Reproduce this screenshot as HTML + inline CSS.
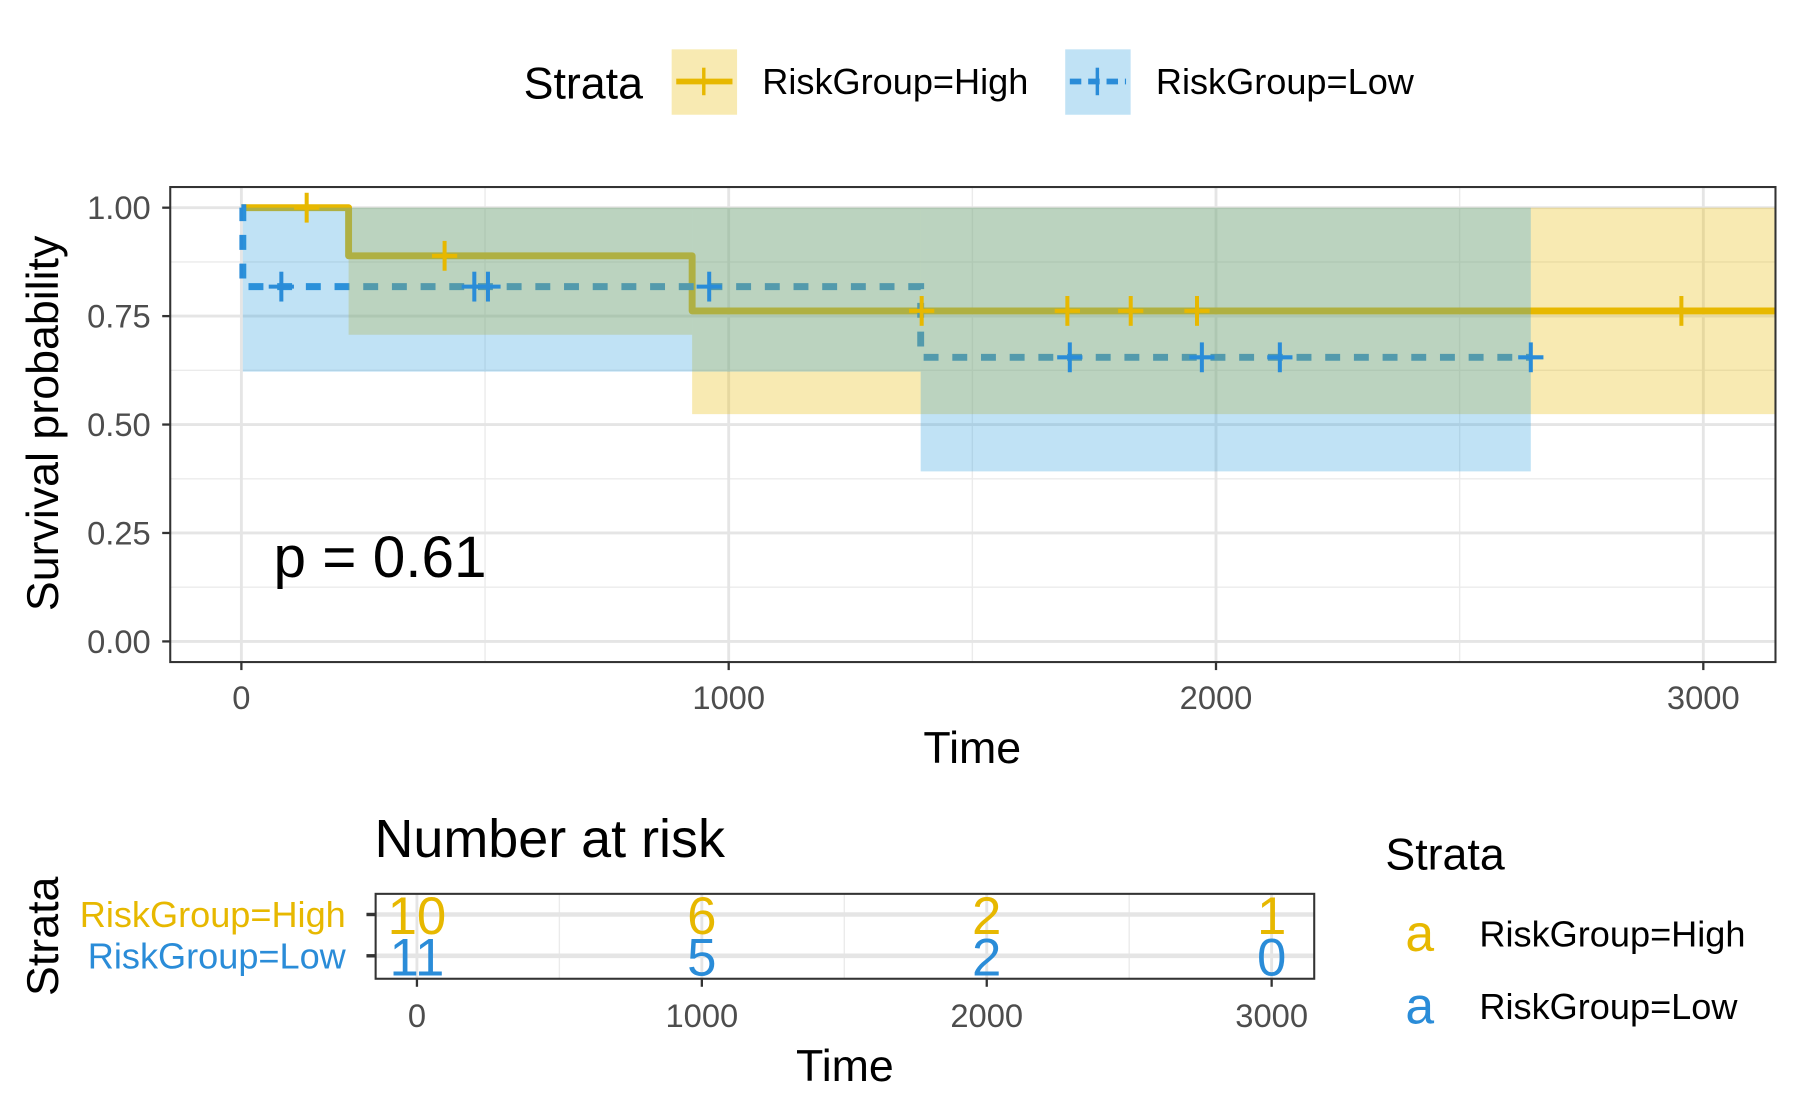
<!DOCTYPE html>
<html><head><meta charset="utf-8"><style>
html,body{margin:0;padding:0;background:#fff}
svg{display:block;font-family:"Liberation Sans",Arial,sans-serif}
</style></head><body>
<svg id="chart" width="1800" height="1113" viewBox="0 0 1568 970" xmlns="http://www.w3.org/2000/svg">
<g id="legend">
 <text x="456" y="86" font-size="39">Strata</text>
 <rect x="585" y="43" width="57" height="57" fill="#E7B800" fill-opacity="0.3"/>
 <line x1="589" y1="71" x2="638" y2="71" stroke="#E7B800" stroke-width="5"/>
 <line x1="613" y1="59" x2="613" y2="83" stroke="#E7B800" stroke-width="3"/>
 <text x="664" y="82" font-size="31.5">RiskGroup=High</text>
 <rect x="928" y="43" width="57" height="57" fill="#2E9FDF" fill-opacity="0.3"/>
 <line x1="932" y1="71" x2="981" y2="71" stroke="#2A8CD8" stroke-width="5" stroke-dasharray="10,6"/>
 <line x1="956" y1="59" x2="956" y2="83" stroke="#2A8CD8" stroke-width="3"/>
 <text x="1007" y="82" font-size="31.5">RiskGroup=Low</text>
</g>
<g id="main"></g>
<g id="risk"></g>
</svg>
<script>
const timeTicks=[0,1000,2000,3000];
const yTicks=[0,0.25,0.5,0.75,1];
const yTickLabels=["0.00","0.25","0.50","0.75","1.00"];
const highTimes=[0,220,925];
const highSurv=[1,0.889,0.762];
const highLower=[1,0.707,0.524];
const highUpper=[1,1,1];
const lowTimes=[0,3,1394];
const lowSurv=[1,0.818,0.655];
const lowLower=[1,0.622,0.392];
const lowUpper=[1,1,1];
const highEnd=3150, lowEnd=2646;
const highCensor=[134,417,1396,1695,1825,1961,2955];
const lowCensor=[82,478,506,960,1700,1971,2131,2646];
const riskTimes=[0,1000,2000,3000];
const riskHigh=[10,6,2,1];
const riskLow=[11,5,2,0];
const pText="p = 0.61";

const NS="http://www.w3.org/2000/svg";
const HI='#E7B800', LO='#2A8CD8';
const X0=148,X1=1547,Y0=163,Y1=577;
const sx=t=>210+t*0.4247;
const sy=v=>559-v*378;
function mk(tag,attrs,parent,text){const e=document.createElementNS(NS,tag);for(const k in attrs)e.setAttribute(k,attrs[k]);if(text!==undefined)e.textContent=text;parent.appendChild(e);return e;}
const main=document.getElementById('main');
mk('rect',{x:X0,y:Y0,width:X1-X0,height:Y1-Y0,fill:'#fff'},main);
for(let i=0;i<yTicks.length-1;i++){const m=(yTicks[i]+yTicks[i+1])/2;mk('line',{x1:X0,x2:X1,y1:sy(m),y2:sy(m),stroke:'#ebebeb','stroke-width':1.2},main);}
for(let i=0;i<timeTicks.length;i++){const m=timeTicks[i]+500;if(sx(m)<X1)mk('line',{y1:Y0,y2:Y1,x1:sx(m),x2:sx(m),stroke:'#ebebeb','stroke-width':1.2},main);}
yTicks.forEach(v=>mk('line',{x1:X0,x2:X1,y1:sy(v),y2:sy(v),stroke:'#e5e5e5','stroke-width':2.5},main));
timeTicks.forEach(t=>mk('line',{y1:Y0,y2:Y1,x1:sx(t),x2:sx(t),stroke:'#e5e5e5','stroke-width':2.5},main));
function stepPath(times,vals,end){let d=`M${sx(times[0])},${sy(vals[0])}`;for(let i=1;i<times.length;i++){d+=`H${sx(times[i])}V${sy(vals[i])}`;}d+=`H${Math.min(sx(end),X1)}`;return d;}
let l=mk('path',{d:stepPath(highTimes,highSurv,highEnd),fill:'none',stroke:HI,'stroke-width':6,'stroke-linejoin':'round'},main);

l=mk('path',{d:stepPath(lowTimes,lowSurv,lowEnd),fill:'none',stroke:LO,'stroke-width':6,'stroke-dasharray':'13,12'},main);

function ribbon(times,lo,hi,end,color,name){for(let i=0;i<times.length;i++){const a=sx(times[i]),b=Math.min(i+1<times.length?sx(times[i+1]):sx(end),X1);if(hi[i]-lo[i]<=0)continue;const r=mk('rect',{x:a,y:sy(hi[i]),width:b-a,height:sy(lo[i])-sy(hi[i]),fill:color,'fill-opacity':0.3},main);}}
ribbon(highTimes,highLower,highUpper,highEnd,'#E7B800','high-ci-band');
ribbon(lowTimes,lowLower,lowUpper,lowEnd,'#2E9FDF','low-ci-band');
function survAt(times,vals,t){let v=vals[0];for(let i=0;i<times.length;i++)if(t>=times[i])v=vals[i];return v;}
function censor(list,times,vals,color,name){list.forEach(t=>{const x=sx(t),y=sy(survAt(times,vals,t));const g=mk('g',{},main);mk('line',{x1:x-11,x2:x+11,y1:y,y2:y,stroke:color,'stroke-width':3.5},g);mk('line',{x1:x,x2:x,y1:y-13,y2:y+13,stroke:color,'stroke-width':3.5},g);});}
censor(highCensor,highTimes,highSurv,HI,'high-censor-mark');
censor(lowCensor,lowTimes,lowSurv,LO,'low-censor-mark');
let b=mk('rect',{x:X0,y:Y0,width:X1-X0,height:Y1-Y0,fill:'none',stroke:'#333','stroke-width':1.8},main);

yTicks.forEach((v,i)=>{mk('line',{x1:X0-7,x2:X0,y1:sy(v),y2:sy(v),stroke:'#333','stroke-width':2},main);const t=mk('text',{x:X0-17,y:sy(v)+10,'font-size':28.5,fill:'#4d4d4d','text-anchor':'end'},main,yTickLabels[i]);});
timeTicks.forEach(v=>{mk('line',{x1:sx(v),x2:sx(v),y1:Y1,y2:Y1+7,stroke:'#333','stroke-width':2},main);const t=mk('text',{x:sx(v),y:Y1+41,'font-size':28.5,fill:'#4d4d4d','text-anchor':'middle'},main,String(v));});
let t=mk('text',{x:847,y:665,'font-size':39,'text-anchor':'middle'},main,'Time');
t=mk('text',{x:0,y:0,'font-size':39,'text-anchor':'middle',transform:'translate(50,369) rotate(-90)'},main,'Survival probability');
t=mk('text',{x:238,y:503,'font-size':51},main,pText);

const risk=document.getElementById('risk');
const RX0=327,RX1=1145,RY0=779,RY1=853;
const rx=v=>363+v*0.2483;
const rowY=[797,833];
t=mk('text',{x:326,y:747,'font-size':47},risk,'Number at risk');
mk('rect',{x:RX0,y:RY0,width:RX1-RX0,height:RY1-RY0,fill:'#fff'},risk);
riskTimes.forEach(v=>{const m=v+500;if(rx(m)<RX1)mk('line',{x1:rx(m),x2:rx(m),y1:RY0,y2:RY1,stroke:'#ebebeb','stroke-width':1.2},risk);mk('line',{x1:rx(v),x2:rx(v),y1:RY0,y2:RY1,stroke:'#e5e5e5','stroke-width':2.5},risk);});
rowY.forEach(y=>mk('line',{x1:RX0,x2:RX1,y1:y,y2:y,stroke:'#e5e5e5','stroke-width':4},risk));
function riskRow(vals,y,color,name){vals.forEach((n,i)=>{const e=mk('text',{x:rx(riskTimes[i]),y:y+17,'font-size':46,fill:color,'text-anchor':'middle'},risk,String(n));});}
riskRow(riskHigh,rowY[0],HI,'risk-count-high');
riskRow(riskLow,rowY[1],LO,'risk-count-low');
mk('rect',{x:RX0,y:RY0,width:RX1-RX0,height:RY1-RY0,fill:'none',stroke:'#333','stroke-width':1.8},risk);
rowY.forEach(y=>mk('line',{x1:RX0-8,x2:RX0,y1:y,y2:y,stroke:'#333','stroke-width':3},risk));
t=mk('text',{x:301,y:rowY[0]+11,'font-size':31.5,fill:HI,'text-anchor':'end'},risk,'RiskGroup=High');
t=mk('text',{x:301,y:rowY[1]+11,'font-size':31.5,fill:LO,'text-anchor':'end'},risk,'RiskGroup=Low');
riskTimes.forEach(v=>{mk('line',{x1:rx(v),x2:rx(v),y1:RY1,y2:RY1+7,stroke:'#333','stroke-width':2},risk);const e=mk('text',{x:rx(v),y:RY1+42,'font-size':28.5,fill:'#4d4d4d','text-anchor':'middle'},risk,String(v));});
t=mk('text',{x:736,y:942,'font-size':39,'text-anchor':'middle'},risk,'Time');
t=mk('text',{x:0,y:0,'font-size':39,'text-anchor':'middle',transform:'translate(50,816) rotate(-90)'},risk,'Strata');
t=mk('text',{x:1207,y:758,'font-size':39},risk,'Strata');
t=mk('text',{x:1237,y:829,'font-size':45,fill:HI,'text-anchor':'middle'},risk,'a');
t=mk('text',{x:1289,y:825,'font-size':31.5},risk,'RiskGroup=High');
t=mk('text',{x:1237,y:892,'font-size':45,fill:LO,'text-anchor':'middle'},risk,'a');
t=mk('text',{x:1289,y:888,'font-size':31.5},risk,'RiskGroup=Low');
</script>
</body></html>
